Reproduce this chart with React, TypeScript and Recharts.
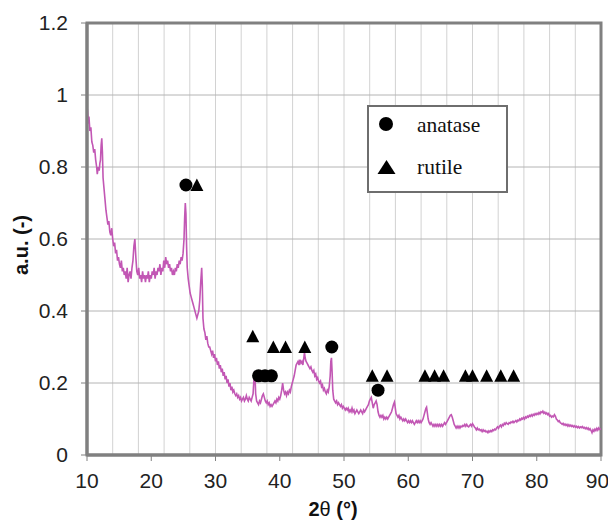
import { ComposedChart, Line, Scatter, XAxis, YAxis, CartesianGrid, ReferenceArea, Legend } from 'recharts';

// 2θ (°) / intensity (a.u.)
const pattern: [number, number][] = [
  [10.0, 0.97], [10.1, 0.95], [10.2, 0.92], [10.3, 0.94], [10.45, 0.9], [10.6, 0.91], [10.75, 0.87], [10.9, 0.86],
  [11.05, 0.84], [11.2, 0.85], [11.35, 0.82], [11.5, 0.8], [11.6, 0.78], [11.75, 0.8], [11.9, 0.79], [12.0, 0.81],
  [12.1, 0.82], [12.2, 0.86], [12.3, 0.88], [12.4, 0.84], [12.5, 0.77], [12.65, 0.74], [12.8, 0.71], [12.95, 0.68],
  [13.1, 0.66], [13.25, 0.64], [13.4, 0.65], [13.55, 0.62], [13.7, 0.61], [13.85, 0.63], [14.0, 0.6], [14.15, 0.58],
  [14.3, 0.59], [14.45, 0.56], [14.6, 0.57], [14.75, 0.54], [14.9, 0.55], [15.05, 0.53], [15.2, 0.52], [15.35, 0.54],
  [15.5, 0.51], [15.65, 0.52], [15.8, 0.5], [15.95, 0.51], [16.1, 0.49], [16.25, 0.52], [16.4, 0.48], [16.55, 0.5],
  [16.7, 0.51], [16.85, 0.49], [17.0, 0.52], [17.15, 0.54], [17.3, 0.58], [17.45, 0.6], [17.6, 0.55], [17.75, 0.51],
  [17.9, 0.5], [18.05, 0.52], [18.2, 0.49], [18.35, 0.5], [18.5, 0.48], [18.65, 0.51], [18.8, 0.49], [18.95, 0.5],
  [19.1, 0.48], [19.25, 0.5], [19.4, 0.49], [19.55, 0.51], [19.7, 0.48], [19.85, 0.5], [20.0, 0.49], [20.15, 0.51],
  [20.3, 0.5], [20.45, 0.52], [20.6, 0.49], [20.75, 0.51], [20.9, 0.5], [21.05, 0.52], [21.2, 0.51], [21.35, 0.53],
  [21.5, 0.5], [21.65, 0.52], [21.8, 0.51], [21.95, 0.54], [22.1, 0.52], [22.25, 0.55], [22.4, 0.53], [22.55, 0.54],
  [22.7, 0.52], [22.85, 0.53], [23.0, 0.51], [23.15, 0.52], [23.3, 0.5], [23.45, 0.51], [23.6, 0.5], [23.75, 0.52],
  [23.9, 0.51], [24.05, 0.53], [24.2, 0.52], [24.35, 0.54], [24.5, 0.53], [24.65, 0.55], [24.8, 0.54], [24.95, 0.56],
  [25.1, 0.6], [25.2, 0.66], [25.3, 0.7], [25.4, 0.67], [25.5, 0.58], [25.6, 0.52], [25.75, 0.49], [25.9, 0.47],
  [26.05, 0.45], [26.2, 0.44], [26.35, 0.43], [26.5, 0.42], [26.65, 0.41], [26.8, 0.4], [26.95, 0.39], [27.1, 0.38],
  [27.25, 0.39], [27.4, 0.4], [27.55, 0.43], [27.7, 0.48], [27.85, 0.52], [27.95, 0.47], [28.05, 0.38], [28.2, 0.35],
  [28.35, 0.34], [28.5, 0.32], [28.65, 0.33], [28.8, 0.31], [28.95, 0.3], [29.1, 0.3], [29.25, 0.29], [29.4, 0.28],
  [29.55, 0.29], [29.7, 0.27], [29.85, 0.28], [30.0, 0.26], [30.15, 0.27], [30.3, 0.25], [30.45, 0.26], [30.6, 0.24],
  [30.75, 0.25], [30.9, 0.23], [31.05, 0.24], [31.2, 0.22], [31.35, 0.23], [31.5, 0.21], [31.65, 0.22], [31.8, 0.2],
  [31.95, 0.21], [32.1, 0.19], [32.25, 0.2], [32.4, 0.18], [32.55, 0.19], [32.7, 0.175], [32.85, 0.18], [33.0, 0.17],
  [33.15, 0.165], [33.3, 0.17], [33.45, 0.16], [33.6, 0.165], [33.75, 0.155], [33.9, 0.16], [34.05, 0.15], [34.2, 0.155],
  [34.35, 0.16], [34.5, 0.15], [34.65, 0.155], [34.8, 0.165], [34.95, 0.155], [35.1, 0.15], [35.25, 0.16], [35.4, 0.155],
  [35.55, 0.15], [35.7, 0.16], [35.85, 0.17], [35.95, 0.2], [36.05, 0.23], [36.15, 0.22], [36.25, 0.17], [36.4, 0.15],
  [36.55, 0.145], [36.7, 0.14], [36.85, 0.15], [37.0, 0.145], [37.15, 0.155], [37.3, 0.165], [37.45, 0.17], [37.6, 0.16],
  [37.75, 0.15], [37.9, 0.145], [38.05, 0.15], [38.2, 0.14], [38.35, 0.145], [38.5, 0.135], [38.65, 0.14], [38.8, 0.135],
  [38.95, 0.14], [39.1, 0.145], [39.25, 0.15], [39.4, 0.145], [39.55, 0.155], [39.7, 0.15], [39.85, 0.16], [40.0, 0.155],
  [40.15, 0.165], [40.3, 0.18], [40.45, 0.2], [40.6, 0.18], [40.75, 0.17], [40.9, 0.175], [41.05, 0.165], [41.2, 0.175],
  [41.35, 0.17], [41.5, 0.18], [41.65, 0.175], [41.8, 0.19], [41.95, 0.2], [42.1, 0.21], [42.25, 0.22], [42.4, 0.235],
  [42.55, 0.25], [42.7, 0.255], [42.85, 0.26], [43.0, 0.25], [43.15, 0.265], [43.3, 0.255], [43.45, 0.26], [43.6, 0.25],
  [43.75, 0.27], [43.85, 0.285], [43.95, 0.27], [44.1, 0.26], [44.25, 0.255], [44.4, 0.25], [44.55, 0.245], [44.7, 0.24],
  [44.85, 0.245], [45.0, 0.235], [45.15, 0.23], [45.3, 0.235], [45.45, 0.22], [45.6, 0.225], [45.75, 0.21], [45.9, 0.215],
  [46.05, 0.205], [46.2, 0.2], [46.35, 0.205], [46.5, 0.19], [46.65, 0.195], [46.8, 0.18], [46.95, 0.185], [47.1, 0.175],
  [47.25, 0.17], [47.4, 0.18], [47.55, 0.175], [47.7, 0.19], [47.85, 0.22], [47.95, 0.26], [48.05, 0.27], [48.15, 0.23],
  [48.25, 0.18], [48.4, 0.155], [48.55, 0.15], [48.7, 0.145], [48.85, 0.15], [49.0, 0.14], [49.15, 0.145], [49.3, 0.14],
  [49.45, 0.135], [49.6, 0.14], [49.75, 0.13], [49.9, 0.135], [50.05, 0.13], [50.2, 0.125], [50.35, 0.13], [50.5, 0.125],
  [50.65, 0.13], [50.8, 0.12], [50.95, 0.125], [51.1, 0.12], [51.25, 0.13], [51.4, 0.12], [51.55, 0.125], [51.7, 0.115],
  [51.85, 0.12], [52.0, 0.125], [52.15, 0.12], [52.3, 0.115], [52.45, 0.12], [52.6, 0.125], [52.75, 0.12], [52.9, 0.115],
  [53.05, 0.125], [53.2, 0.12], [53.35, 0.125], [53.5, 0.13], [53.65, 0.135], [53.8, 0.14], [53.95, 0.15], [54.1, 0.155],
  [54.25, 0.16], [54.4, 0.145], [54.55, 0.13], [54.7, 0.14], [54.85, 0.145], [55.0, 0.15], [55.15, 0.14], [55.3, 0.12],
  [55.45, 0.11], [55.6, 0.105], [55.75, 0.11], [55.9, 0.105], [56.05, 0.11], [56.2, 0.1], [56.35, 0.105], [56.5, 0.1],
  [56.65, 0.105], [56.8, 0.1], [56.95, 0.105], [57.1, 0.11], [57.25, 0.115], [57.4, 0.12], [57.55, 0.13], [57.7, 0.14],
  [57.85, 0.147], [57.95, 0.135], [58.1, 0.115], [58.25, 0.11], [58.4, 0.105], [58.55, 0.11], [58.7, 0.1], [58.85, 0.105],
  [59.0, 0.1], [59.15, 0.095], [59.3, 0.1], [59.45, 0.095], [59.6, 0.1], [59.75, 0.095], [59.9, 0.09], [60.05, 0.095],
  [60.2, 0.09], [60.35, 0.095], [60.5, 0.09], [60.65, 0.095], [60.8, 0.09], [60.95, 0.085], [61.1, 0.09], [61.25, 0.095],
  [61.4, 0.09], [61.55, 0.095], [61.7, 0.09], [61.85, 0.095], [62.0, 0.09], [62.15, 0.095], [62.3, 0.1], [62.45, 0.11],
  [62.6, 0.12], [62.75, 0.13], [62.85, 0.133], [62.95, 0.12], [63.1, 0.1], [63.25, 0.09], [63.4, 0.085], [63.55, 0.09],
  [63.7, 0.085], [63.85, 0.08], [64.0, 0.085], [64.15, 0.08], [64.3, 0.085], [64.45, 0.08], [64.6, 0.085], [64.75, 0.08],
  [64.9, 0.085], [65.05, 0.08], [65.2, 0.085], [65.35, 0.08], [65.5, 0.085], [65.65, 0.09], [65.8, 0.085], [65.95, 0.09],
  [66.1, 0.095], [66.25, 0.1], [66.4, 0.105], [66.55, 0.11], [66.7, 0.112], [66.85, 0.105], [67.0, 0.095], [67.15, 0.085],
  [67.3, 0.08], [67.45, 0.075], [67.6, 0.08], [67.75, 0.075], [67.9, 0.08], [68.05, 0.075], [68.2, 0.08], [68.35, 0.078],
  [68.5, 0.082], [68.65, 0.08], [68.8, 0.085], [68.95, 0.08], [69.1, 0.085], [69.25, 0.08], [69.4, 0.078], [69.55, 0.082],
  [69.7, 0.085], [69.85, 0.08], [70.0, 0.087], [70.15, 0.083], [70.3, 0.078], [70.45, 0.075], [70.6, 0.07], [70.75, 0.075],
  [70.9, 0.07], [71.05, 0.072], [71.2, 0.068], [71.35, 0.07], [71.5, 0.065], [71.65, 0.07], [71.8, 0.066], [71.95, 0.068],
  [72.1, 0.064], [72.25, 0.066], [72.4, 0.062], [72.55, 0.067], [72.7, 0.064], [72.85, 0.068], [73.0, 0.065], [73.15, 0.07],
  [73.3, 0.068], [73.45, 0.072], [73.6, 0.07], [73.75, 0.075], [73.9, 0.078], [74.05, 0.074], [74.2, 0.08], [74.35, 0.083],
  [74.5, 0.078], [74.65, 0.085], [74.8, 0.082], [74.95, 0.088], [75.1, 0.085], [75.25, 0.09], [75.4, 0.087], [75.55, 0.085],
  [75.7, 0.09], [75.85, 0.088], [76.0, 0.092], [76.15, 0.09], [76.3, 0.094], [76.45, 0.09], [76.6, 0.093], [76.75, 0.096],
  [76.9, 0.092], [77.05, 0.097], [77.2, 0.095], [77.35, 0.1], [77.5, 0.097], [77.65, 0.102], [77.8, 0.1], [77.95, 0.104],
  [78.1, 0.1], [78.25, 0.106], [78.4, 0.103], [78.55, 0.108], [78.7, 0.105], [78.85, 0.11], [79.0, 0.107], [79.15, 0.112],
  [79.3, 0.108], [79.45, 0.113], [79.6, 0.11], [79.75, 0.115], [79.9, 0.112], [80.05, 0.116], [80.2, 0.113], [80.35, 0.118],
  [80.5, 0.114], [80.65, 0.12], [80.8, 0.118], [80.95, 0.122], [81.1, 0.116], [81.25, 0.119], [81.4, 0.114], [81.55, 0.117],
  [81.7, 0.112], [81.85, 0.115], [82.0, 0.108], [82.15, 0.11], [82.3, 0.105], [82.45, 0.108], [82.6, 0.106], [82.75, 0.112],
  [82.9, 0.108], [83.05, 0.1], [83.2, 0.097], [83.35, 0.093], [83.5, 0.095], [83.65, 0.09], [83.8, 0.088], [83.95, 0.085],
  [84.1, 0.088], [84.25, 0.083], [84.4, 0.086], [84.55, 0.082], [84.7, 0.085], [84.85, 0.08], [85.0, 0.084], [85.15, 0.08],
  [85.3, 0.083], [85.45, 0.079], [85.6, 0.082], [85.75, 0.078], [85.9, 0.081], [86.05, 0.077], [86.2, 0.08], [86.35, 0.076],
  [86.5, 0.079], [86.65, 0.075], [86.8, 0.078], [86.95, 0.076], [87.1, 0.079], [87.25, 0.075], [87.4, 0.077], [87.55, 0.073],
  [87.7, 0.076], [87.85, 0.072], [88.0, 0.075], [88.15, 0.07], [88.3, 0.073], [88.45, 0.068], [88.6, 0.062], [88.75, 0.07],
  [88.9, 0.066], [89.05, 0.072], [89.2, 0.068], [89.35, 0.074], [89.5, 0.069], [89.65, 0.075], [89.8, 0.071], [90.0, 0.073],
];

// peak markers [2θ, marker height]
const anatasePeaks: [number, number][] = [
  [25.4, 0.75], [36.7, 0.22], [37.7, 0.22], [38.7, 0.22], [48.1, 0.3], [55.3, 0.18],
];
const rutilePeaks: [number, number][] = [
  [27.1, 0.75], [35.8, 0.33], [39.0, 0.3], [40.9, 0.3], [43.9, 0.3], [54.4, 0.22], [56.7, 0.22],
  [62.6, 0.22], [64.1, 0.22], [65.5, 0.22], [68.9, 0.22], [70.0, 0.22], [72.2, 0.22], [74.4, 0.22], [76.4, 0.22],
];

const xTicks = [10, 20, 30, 40, 50, 60, 70, 80, 90];
const yTicks = [0, 0.2, 0.4, 0.6, 0.8, 1, 1.2];
const xGrid = [10, 12, 14, 16, 18, 20, 22, 24, 26, 28, 30, 32, 34, 36, 38, 40, 42, 44, 46, 48, 50,
  52, 54, 56, 58, 60, 62, 64, 66, 68, 70, 72, 74, 76, 78, 80, 82, 84, 86, 88, 90];
const seriesNames = ['anatase', 'rutile'];

const lineData = pattern.map(([x, y]) => ({ x, y }));
const anataseData = anatasePeaks.map(([x, y]) => ({ x, y }));
const rutileData = rutilePeaks.map(([x, y]) => ({ x, y }));

const SANS = '"Liberation Sans", Arial, sans-serif';
const SERIF = '"Liberation Serif", "Times New Roman", serif';
const FRAME = '#808080';

const Dot = (props: any) => <circle cx={props.cx} cy={props.cy} r={6.5} fill="#000" />;
const Tri = (props: any) => {
  const { cx, cy } = props;
  return <polygon points={`${cx - 6.5},${cy + 6} ${cx + 6.5},${cy + 6} ${cx},${cy - 6.5}`} fill="#000" />;
};

function LegendBox() {
  return (
    <div style={{ width: 141, height: 88, border: '2px solid #6e6e6e', background: '#fff', boxSizing: 'border-box' }}>
      <svg width={137} height={84} style={{ display: 'block' }}>
        <circle cx={17} cy={17} r={7} fill="#000" />
        <text x={48} y={25} fontFamily={SERIF} fontSize={21.5} fill="#111">{seriesNames[0]}</text>
        <polygon points="8.5,67 26.5,67 17.5,53" fill="#000" />
        <text x={48} y={67} fontFamily={SERIF} fontSize={21.5} fill="#111">{seriesNames[1]}</text>
      </svg>
    </div>
  );
}

export default function App() {
  return (
    <ComposedChart width={600} height={513} margin={{ top: 15, right: 7, bottom: 8, left: 0 }}>
      <CartesianGrid horizontal={false} verticalValues={xGrid} stroke="#d2d2d2" strokeWidth={1} />
      <CartesianGrid vertical={false} horizontalValues={yTicks} stroke="#b4b4b4" strokeWidth={1} />
      <XAxis
        dataKey="x"
        type="number"
        domain={[10, 90]}
        ticks={xTicks}
        allowDataOverflow
        height={58}
        tickSize={6}
        tickMargin={12}
        axisLine={{ stroke: FRAME, strokeWidth: 3 }}
        tickLine={{ stroke: FRAME }}
        tick={{ fill: '#222', fontSize: 21, fontFamily: SANS }}
        label={{
          content: () => (
            <text x={325} y={508} textAnchor="middle" fontFamily={SANS} fontSize={20} fontWeight="bold" fill="#111">
              <tspan>2</tspan><tspan fontWeight="normal">θ</tspan><tspan> (°)</tspan>
            </text>
          ),
        }}
      />
      <YAxis
        dataKey="y"
        type="number"
        domain={[0, 1.2]}
        ticks={yTicks}
        allowDataOverflow
        width={79}
        tickSize={6}
        tickMargin={13}
        axisLine={{ stroke: FRAME, strokeWidth: 3 }}
        tickLine={{ stroke: FRAME }}
        tick={{ fill: '#222', fontSize: 21, fontFamily: SANS }}
        label={{
          content: () => (
            <text x={13} y={237} transform="rotate(-90 13 237)" textAnchor="middle" dominantBaseline="central"
              fontFamily={SANS} fontSize={20} fontWeight="bold" fill="#111">a.u. (-)</text>
          ),
        }}
      />
      <Line
        data={lineData}
        dataKey="y"
        type="linear"
        stroke="#c257b4"
        strokeWidth={1.6}
        dot={false}
        isAnimationActive={false}
        legendType="none"
      />
      <Scatter data={anataseData} dataKey="y" name={seriesNames[0]} shape={Dot} isAnimationActive={false} />
      <Scatter data={rutileData} dataKey="y" name={seriesNames[1]} shape={Tri} isAnimationActive={false} />
      <ReferenceArea x1={10} x2={90} y1={0} y2={1.2} fill="none" stroke={FRAME} strokeWidth={3} ifOverflow="visible" />
      <Legend
        verticalAlign="middle"
        align="center"
        content={() => <LegendBox />}
        wrapperStyle={{ position: 'absolute', left: 359, top: 97, width: 141, height: 88 }}
      />
    </ComposedChart>
  );
}
